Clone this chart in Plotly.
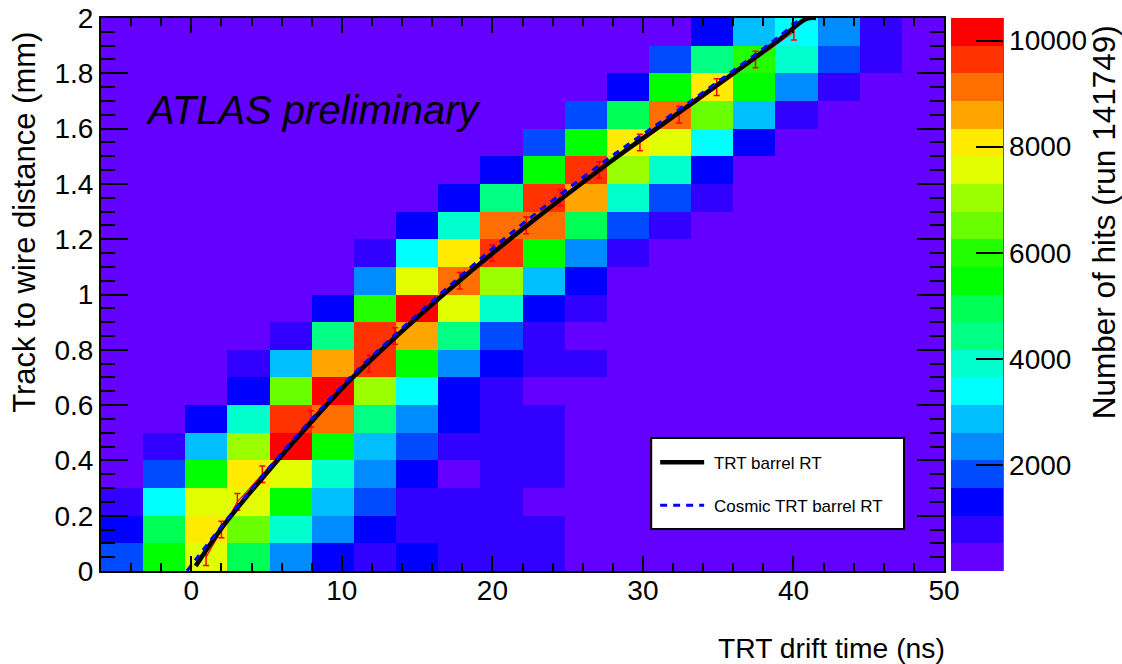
import plotly.graph_objects as go

# --- data -----------------------------------------------------------------
hits_r00 = [1820,5470,7560,4950,2350,1300,780,1300,780,780,780,260,260,260,260,260,260,260,260,260]
hits_r01 = [1300,4950,8080,6510,3910,2350,1300,780,780,780,780,260,260,260,260,260,260,260,260,260]
hits_r02 = [780,3390,7560,7560,5470,2870,1820,780,780,780,260,260,260,260,260,260,260,260,260,260]
hits_r03 = [260,1820,5470,8080,7560,3910,2350,1300,260,780,780,260,260,260,260,260,260,260,260,260]
hits_r04 = [260,780,2870,7040,10160,5470,2870,1820,780,780,780,260,260,260,260,260,260,260,260,260]
hits_r05 = [260,260,1300,3910,9640,9120,4430,2350,1300,780,780,260,260,260,260,260,260,260,260,260]
hits_r06 = [260,260,260,1300,6510,10160,7040,3390,1300,780,260,260,260,260,260,260,260,260,260,260]
hits_r07 = [260,260,260,780,2870,8600,9640,5470,2350,1300,780,780,260,260,260,260,260,260,260,260]
hits_r08 = [260,260,260,260,780,4430,9640,8600,4430,1820,780,260,260,260,260,260,260,260,260,260]
hits_r09 = [260,260,260,260,260,1300,5990,10160,7560,3910,1300,780,260,260,260,260,260,260,260,260]
hits_r10 = [260,260,260,260,260,260,2350,7560,9120,7040,2870,1300,260,260,260,260,260,260,260,260]
hits_r11 = [260,260,260,260,260,260,780,3390,8080,9640,5470,2350,780,260,260,260,260,260,260,260]
hits_r12 = [260,260,260,260,260,260,260,1300,3910,9120,9120,4950,1820,780,260,260,260,260,260,260]
hits_r13 = [260,260,260,260,260,260,260,260,1300,4430,9640,8600,3910,1820,780,260,260,260,260,260]
hits_r14 = [260,260,260,260,260,260,260,260,260,1300,5470,9640,7040,3910,1300,260,260,260,260,260]
hits_r15 = [260,260,260,260,260,260,260,260,260,260,1820,5470,8080,7560,3390,1300,260,260,260,260]
hits_r16 = [260,260,260,260,260,260,260,260,260,260,260,1820,4950,9120,6510,2870,780,260,260,260]
hits_r17 = [260,260,260,260,260,260,260,260,260,260,260,260,1300,5470,8080,5470,2350,780,260,260]
hits_r18 = [260,260,260,260,260,260,260,260,260,260,260,260,260,1820,4430,5990,3910,1820,780,260]
hits_r19 = [260,260,260,260,260,260,260,260,260,260,260,260,260,260,1300,2870,3390,2350,780,260]
hits = [hits_r00, hits_r01, hits_r02, hits_r03, hits_r04, hits_r05, hits_r06, hits_r07, hits_r08, hits_r09,
        hits_r10, hits_r11, hits_r12, hits_r13, hits_r14, hits_r15, hits_r16, hits_r17, hits_r18, hits_r19]

profile_t = [0.98,2.0,3.06,4.72,6.3,7.94,9.7,11.82,13.53,15.4,17.83,19.98,22.25,24.5,27.1,29.8,32.4,34.9,37.48,40.03]
profile_r = [0.05,0.15,0.25,0.35,0.45,0.55,0.65,0.75,0.85,0.95,1.05,1.15,1.25,1.35,1.45,1.55,1.65,1.75,1.85,1.95]
profile_e = [0.03]*20

rt_t = [0.29,2.15,4.81,7.92,10.58,13.69,17.0,21.9,27.66,33.2,38.97,40.85,41.5]
rt_r = [0.018,0.165,0.342,0.536,0.692,0.852,1.012,1.232,1.473,1.69,1.918,1.997,2.0]
cosmic_t = [-0.29,2.15,4.81,7.92,10.58,13.69,17.0,21.2,27.66,33.2,38.97,40.5]
cosmic_r = [0.0,0.172,0.35,0.545,0.702,0.862,1.024,1.22,1.49,1.70,1.93,2.0]

palette = ["#6400ff","#3200ff","#0000ff","#004bff","#008cff","#00beff","#00ffff","#00ffcd","#00ff82","#00ff55",
           "#00ff00","#23ff00","#69ff00","#9bff00","#e1ff00","#ffeb00","#ffa500","#ff6e00","#ff3200","#ff0000"]
colorscale = []
for i, c in enumerate(palette):
    colorscale += [[i/20, c], [(i+1)/20, c]]

FONT = "Liberation Sans"
L, R, T, B = 100.5, 944, 17.5, 571
px = lambda x: (x-L)/(R-L)
py = lambda y: (B-y)/(B-T)

fig = go.Figure()
fig.add_trace(go.Heatmap(
    z=hits, x0=-4.6, dx=2.8, y0=0.05, dy=0.1, zmin=0, zmax=10425,
    colorscale=colorscale, showlegend=False, hoverinfo="skip",
    colorbar=dict(x=px(951), xanchor="left", xpad=0, y=0, yanchor="bottom", ypad=0, len=1,
                  thickness=52, outlinewidth=0, ticks="inside", ticklen=27, tickwidth=1.5, tickcolor="black",
                  tickvals=[2000,4000,6000,8000,10000], tickformat="d",
                  tickfont=dict(family=FONT, size=28, color="black")),
))
fig.add_trace(go.Scatter(x=profile_t, y=profile_r, mode="lines", line=dict(color="#ff0000", width=1.2),
                         error_y=dict(type="data", array=profile_e, color="#ff0000", thickness=1.5, width=3),
                         showlegend=False, hoverinfo="skip"))
fig.add_trace(go.Scatter(x=rt_t, y=rt_r, mode="lines", name="\u00a0TRT barrel RT", legendgroup="a",
                         line=dict(color="black", width=4.5, shape="spline"), cliponaxis=False))
fig.add_trace(go.Scatter(x=cosmic_t, y=cosmic_r, mode="lines", name="\u00a0Cosmic TRT barrel RT", legendgroup="b",
                         line=dict(color="#0000ff", width=3, dash="7px,6px", shape="spline")))

axis = dict(showgrid=False, zeroline=False, showline=True, linecolor="black", linewidth=2, mirror="allticks",
            ticks="inside", tickcolor="black", tickfont=dict(family=FONT, size=28, color="black"))
fig.update_xaxes(range=[-6,50], tick0=0, dtick=10, ticklen=15, tickwidth=1.5, ticklabelstandoff=-7,
                 minor=dict(ticks="inside", tick0=0, dtick=2, ticklen=8, tickwidth=1.5, tickcolor="black"), **axis)
fig.update_yaxes(range=[0,2], tick0=0, dtick=0.2, ticklen=27, tickwidth=1.5,
                 minor=dict(ticks="inside", tick0=0, dtick=0.05, ticklen=14, tickwidth=1.5, tickcolor="black"), **axis)

def note(text, x, y, size, **kw):
    return dict(text=text, xref="paper", yref="paper", x=px(x), y=py(y), showarrow=False,
                font=dict(family=FONT, size=size, color="black"), **kw)

fig.update_layout(
    width=1122, height=664, autosize=False,
    margin=dict(l=L, r=1122-R, t=T, b=664-B, autoexpand=False),
    paper_bgcolor="white", plot_bgcolor="#6400ff",
    legend=dict(x=px(655), y=py(444.5), xanchor="left", yanchor="top", bgcolor="rgba(0,0,0,0)", borderwidth=0,
                font=dict(family=FONT, size=17, color="black"), itemwidth=44, tracegroupgap=18,
                traceorder="grouped"),
    shapes=[
        dict(type="rect", xref="paper", yref="paper", x0=px(651), x1=px(904), y0=py(529), y1=py(438),
             fillcolor="white", line=dict(color="black", width=2), layer="above"),
        dict(type="line", xref="paper", yref="paper", x0=px(1003), x1=px(1003), y0=0, y1=1,
             line=dict(color="#222222", width=1.5), layer="above"),
    ],
    annotations=[
        note("<i>ATLAS preliminary</i>", 144, 110, 40, xanchor="left", yanchor="middle"),
        note("TRT drift time (ns)", 947, 648, 28.3, xanchor="right", yanchor="middle"),
        note("Track to wire distance (mm)", 24, 222, 31, textangle=-90, xanchor="center", yanchor="middle"),
        note("Number of hits (run 141749)", 1104, 222, 31.5, textangle=-90, xanchor="center", yanchor="middle"),
    ],
)
fig.write_html("out.html", config=dict(displayModeBar=False), post_script="document.body.style.margin='0';")
